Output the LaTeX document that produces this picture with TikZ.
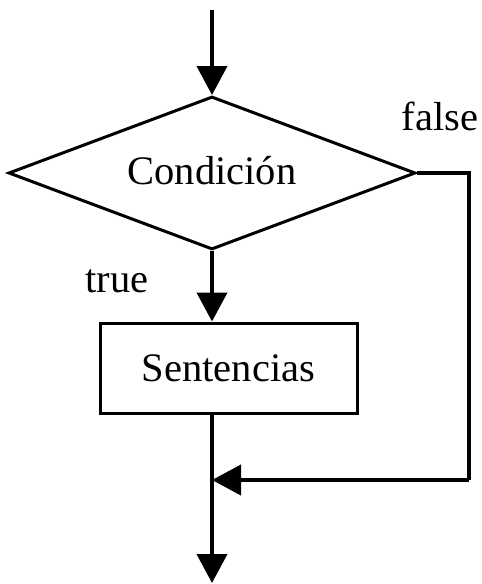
\documentclass[tikz,border=0pt]{standalone}
\usepackage{fontspec}
\setmainfont{Liberation Serif}
\usepackage{tikz}
\usetikzlibrary{shapes.geometric, arrows.meta, positioning, calc}
\tikzset{
    decision/.style={diamond, draw, line width=3pt, shape aspect=2.66, minimum width=407pt, minimum height=153pt, inner sep=0pt},
    process/.style={rectangle, draw, line width=3pt, minimum width=257pt, minimum height=90pt, inner sep=0pt},
    arrow/.style={-{Triangle[length=29pt, width=30pt]}, line width=4pt},
    flowline/.style={line width=4pt},
    tag/.style={anchor=base, inner sep=0pt}
}

\begin{document}
\begin{tikzpicture}[x=1pt, y=-1pt, font=\fontsize{40.5}{48}\selectfont]
    \useasboundingbox (0,0) rectangle (482,584);

    \coordinate (start) at (212,10);
    \node[decision] (cond) at (212,173) {\raisebox{6pt}{Condición}};
    \node[process] (sent) at (228.5,368) {Sentencias};
    \coordinate (loop) at (469,480);
    \coordinate (merge) at (212,480);
    \coordinate (finish) at (212,583);

    \draw[arrow] (start) -- (cond.north);
    \draw[arrow] (cond.south) -- (cond.south |- sent.north);
    \draw[flowline] (cond.east) -| (loop);
    \draw[arrow] (loop) -- (merge);
    \draw[arrow] (cond.south |- sent.south) -- (finish);

    \node[tag] (truelbl) at (117,292) {true};
    \node[tag] (falselbl) at (440,130) {false};
\end{tikzpicture}
\end{document}
